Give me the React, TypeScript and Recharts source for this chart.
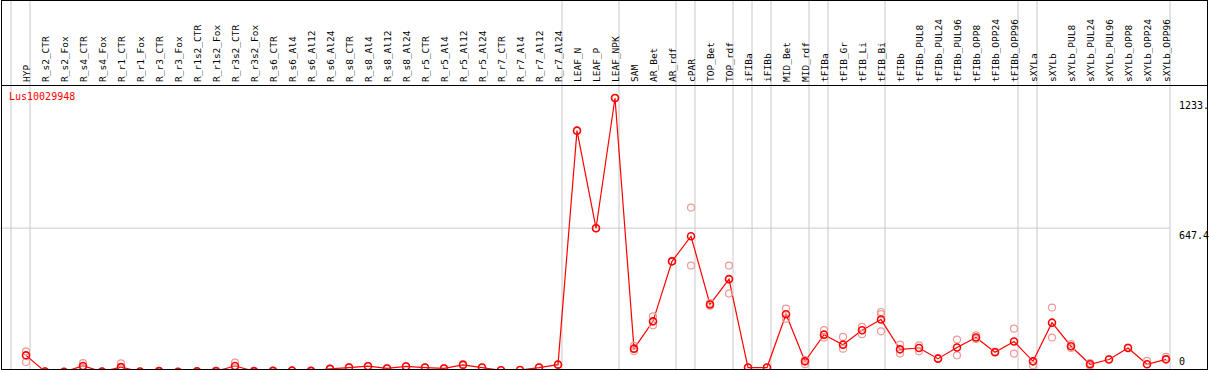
import React from "react";
import {
  ComposedChart,
  Line,
  Scatter,
  XAxis,
  YAxis,
  ReferenceLine,
} from "recharts";

// sample columns, left to right
const columns = [
  "HYP", "R_s2_CTR", "R_s2_Fox", "R_s4_CTR", "R_s4_Fox", "R_r1_CTR", "R_r1_Fox",
  "R_r3_CTR", "R_r3_Fox", "R_r1s2_CTR", "R_r1s2_Fox", "R_r3s2_CTR", "R_r3s2_Fox",
  "R_s6_CTR", "R_s6_Al4", "R_s6_Al12", "R_s6_Al24", "R_s8_CTR", "R_s8_Al4",
  "R_s8_Al12", "R_s8_Al24", "R_r5_CTR", "R_r5_Al4", "R_r5_Al12", "R_r5_Al24",
  "R_r7_CTR", "R_r7_Al4", "R_r7_Al12", "R_r7_Al24", "LEAF_N", "LEAF_P", "LEAF_NPK",
  "SAM", "AR_Bet", "AR_rdf", "cPAR", "TOP_Bet", "TOP_rdf", "iFIBa", "iFIBb",
  "MID_Bet", "MID_rdf", "tFIBa", "tFIB_Gr", "tFIB_Li", "tFIB_Bi", "tFIBb",
  "tFIBb_PUL8", "tFIBb_PUL24", "tFIBb_PUL96", "tFIBb_OPP8", "tFIBb_OPP24",
  "tFIBb_OPP96", "sXYLa", "sXYLb", "sXYLb_PUL8", "sXYLb_PUL24", "sXYLb_PUL96",
  "sXYLb_OPP8", "sXYLb_OPP24", "sXYLb_OPP96",
];

// mean expression per column
const means = [
  75, 2, 1, 27, 2, 22, 2, 4, 1, 3, 4, 27, 4,
  5, 6, 5, 14, 20, 26, 16, 25, 20, 16, 32, 20,
  8, 9, 20, 33, 1086, 647, 1233,
  105, 228, 498, 611, 304, 418, 20, 20,
  260, 48, 168, 123, 188, 236, 102,
  108, 60, 110, 155, 89, 137,
  48, 222, 116, 35, 56, 108, 35, 57,
];

// replicate values per column
const replicates: number[][] = [
  [93, 45], [3], [1], [40, 20], [2], [39, 12], [2], [5], [1], [3], [5], [42, 18], [4],
  [6], [7], [5], [15], [22], [28], [17], [26], [21], [17], [35], [21],
  [9], [9], [21], [34], [1086], [647], [1233],
  [118, 95], [250, 210], [498], [740, 479], [310, 298], [479, 353], [20], [20],
  [285, 240], [35, 55], [188, 155], [158, 105], [203, 170], [270, 260, 183], [123, 83],
  [120, 93], [62], [146, 75], [165, 148], [92], [195, 83],
  [30], [290, 155], [125, 108], [40, 28], [58], [110], [50], [68],
];

// column indexes where a gray separator is drawn
const groupEdges = [0, 1, 29, 32, 35, 36, 38, 39, 40, 42, 43, 46, 53, 54, 61];

const yTicks = [1233, 647.4, 0];
const yTickLabels = ["1233.", "647.4", "0"];
const geneId = "Lus10029948";

const W = 1209;
const H = 372;
const COL_W = 19;
const FIRST_EDGE = 11;
const POINT_SHIFT = 15 / COL_W;
const TOP_PX = 98;
const Y_MAX = 1233;
const yTop = (Y_MAX * H) / (H - TOP_PX);
const xDomain = [-FIRST_EDGE / COL_W, (W - FIRST_EDGE) / COL_W];

const lineData = columns.map((name, i) => ({ name, x: i + POINT_SHIFT, y: means[i] }));
const repData = replicates.flatMap((vals, i) =>
  vals.map((v) => ({ x: i + POINT_SHIFT, y: v }))
);

const FONT = "'DejaVu Sans Mono', monospace";

const ColumnTick = (props: any) => {
  const x = props.x + 3.5;
  const y = 82;
  const i = Math.round(props.payload.value - POINT_SHIFT);
  return (
    <text
      x={x}
      y={y}
      transform={`rotate(-90 ${x} ${y})`}
      fontFamily={FONT}
      fontSize={9.5}
      fill="#000"
      textAnchor="start"
    >
      {columns[i]}
    </text>
  );
};

const ValueTick = (props: any) => {
  const v = props.payload.value;
  const idx = yTicks.indexOf(v);
  const y = v === 0 ? props.y - 7 : props.y + 11;
  return (
    <text x={1179} y={y} fontFamily={FONT} fontSize={10} fill="#000" textAnchor="start">
      {yTickLabels[idx]}
    </text>
  );
};

const RepDot = (p: any) => (
  <circle cx={p.cx} cy={p.cy} r={3.5} fill="none" stroke="#f09a9a" strokeWidth={1.2} />
);

export default function App() {
  return (
    <div
      style={{
        position: "absolute",
        left: 0,
        top: 0,
        width: W,
        height: 370,
        overflow: "hidden",
        background: "#fff",
      }}
    >
      <ComposedChart width={W} height={H} margin={{ top: 0, right: 0, bottom: 0, left: 0 }}>
        <XAxis
          dataKey="x"
          type="number"
          domain={xDomain}
          orientation="top"
          mirror
          ticks={lineData.map((d) => d.x)}
          interval={0}
          tick={ColumnTick}
          axisLine={false}
          tickLine={false}
          allowDataOverflow
        />
        <YAxis
          type="number"
          domain={[0, yTop]}
          orientation="right"
          mirror
          ticks={yTicks}
          interval={0}
          tick={ValueTick}
          axisLine={false}
          tickLine={false}
          allowDataOverflow
        />
        {groupEdges.map((k) => (
          <ReferenceLine key={k} x={k} stroke="#c8c8c8" strokeWidth={1} />
        ))}
        <ReferenceLine
          segment={[
            { x: xDomain[0], y: 647.4 },
            { x: 61, y: 647.4 },
          ]}
          stroke="#c8c8c8"
          strokeWidth={1}
        />
        <Scatter data={repData} dataKey="y" shape={RepDot} isAnimationActive={false} />
        <Line
          data={lineData}
          dataKey="y"
          type="linear"
          stroke="#ff0000"
          strokeWidth={1.2}
          dot={{ r: 3.5, stroke: "#ff0000", strokeWidth: 1.6, fill: "none" }}
          activeDot={false}
          isAnimationActive={false}
        />
      </ComposedChart>
      <div
        style={{
          position: "absolute",
          left: 1,
          top: 0,
          width: 1205,
          height: 368,
          border: "1px solid #000",
          pointerEvents: "none",
        }}
      />
      <div
        style={{
          position: "absolute",
          left: 1,
          top: 85,
          width: 1207,
          height: 1,
          background: "#000",
        }}
      />
      <div
        style={{
          position: "absolute",
          left: 9,
          top: 91,
          fontFamily: FONT,
          fontSize: 10,
          lineHeight: "12px",
          color: "#ff0000",
        }}
      >
        {geneId}
      </div>
    </div>
  );
}
